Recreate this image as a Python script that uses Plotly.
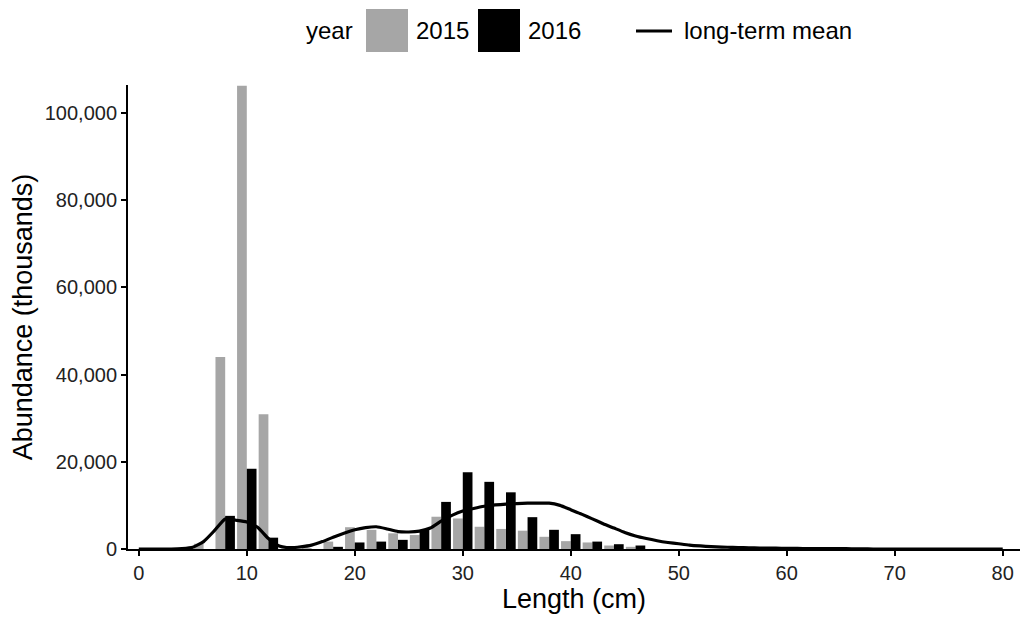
import plotly.graph_objects as go

# Length bins (cm) for bars
bin_lengths = [6, 8, 10, 12, 14, 16, 18, 20, 22, 24, 26, 28, 30, 32, 34, 36, 38, 40, 42, 44, 46]
abund_2015 = [1200, 44000, 106200, 30900, 0, 200, 1700, 5000, 4400, 3600, 3200, 7400, 7000, 5100,
              4600, 4200, 2800, 1800, 1500, 800, 500]
abund_2016 = [0, 7600, 18400, 2600, 0, 0, 500, 1500, 1700, 2100, 4400, 10800, 17600, 15400,
              13000, 7300, 4400, 3400, 1700, 1100, 800]

# Long-term mean (1 cm steps)
mean_lengths = list(range(0, 81))
mean_abund = [0, 0, 0, 0, 100, 400, 1700, 4200, 6900, 6600, 6200, 5000, 2400, 700, 300, 500,
              900, 1700, 2700, 3600, 4400, 4900, 5100, 4600, 4000, 3900, 4100, 4800, 6400, 7700,
              8700, 9300, 9800, 10100, 10300, 10400, 10500, 10500, 10500, 10000, 9000, 8000,
              6900, 5800, 4800, 3800, 3000, 2400, 1900, 1500, 1200, 900, 700, 550, 450, 350,
              300, 250, 200, 180, 150, 130, 110, 90, 80, 70, 60, 50, 0, 0, 0, 0, 0, 0, 0, 0,
              0, 0, 0, 0, 0]

x_ticks = [0, 10, 20, 30, 40, 50, 60, 70, 80]
y_ticks = [0, 20000, 40000, 60000, 80000, 100000]

FONT = "Liberation Sans, Arial, sans-serif"
GRAY = "#a6a6a6"

fig = go.Figure()
fig.add_trace(go.Bar(x=bin_lengths, y=abund_2015, name="2015", marker_color=GRAY,
                     marker_line_width=0, showlegend=False))
fig.add_trace(go.Bar(x=bin_lengths, y=abund_2016, name="2016", marker_color="black",
                     marker_line_width=0, showlegend=False))
fig.add_trace(go.Scatter(x=mean_lengths, y=mean_abund, mode="lines", name="long-term mean",
                         line=dict(color="black", width=3.2, shape="spline", smoothing=0.5),
                         showlegend=False))


def px(x):
    return (x - 128) / 892


def py(y):
    return (549 - y) / 464


# Custom legend (swatches + text) at top
shapes = [
    dict(type="rect", xref="paper", yref="paper", x0=px(366), x1=px(408),
         y0=py(52), y1=py(9), fillcolor=GRAY, line_width=0),
    dict(type="rect", xref="paper", yref="paper", x0=px(478), x1=px(520),
         y0=py(52), y1=py(9), fillcolor="black", line_width=0),
    dict(type="line", xref="paper", yref="paper", x0=px(636), x1=px(672),
         y0=py(31), y1=py(31), line=dict(color="black", width=3)),
]
annots = []
for txt, xp in [("year", 304), ("2015", 414), ("2016", 526), ("long-term mean", 682)]:
    annots.append(dict(text=txt, xref="paper", yref="paper", x=px(xp),
                       y=py(31), xanchor="left", yanchor="middle", showarrow=False,
                       font=dict(size=24, color="black", family=FONT)))

fig.update_layout(
    width=1024, height=618,
    margin=dict(l=128, r=4, t=85, b=69),
    plot_bgcolor="white", paper_bgcolor="white",
    barmode="group", bargap=0.1, bargroupgap=0,
    font=dict(family=FONT, color="black"),
    shapes=shapes, annotations=annots,
    xaxis=dict(range=[-1.0, 81.6], tickvals=x_ticks, ticks="outside", ticklen=5, tickwidth=1.5,
               tickcolor="black", showline=True, linecolor="black", linewidth=2,
               showgrid=False, zeroline=False, tickfont=dict(size=20, color="#222"),
               title=dict(text="Length (cm)", font=dict(size=27, color="black"), standoff=4)),
    yaxis=dict(range=[0, 106400], tickvals=y_ticks, tickformat=",d", ticks="outside", ticklen=5,
               tickwidth=1.5, tickcolor="black", showline=True, linecolor="black", linewidth=2,
               showgrid=False, zeroline=False, tickfont=dict(size=20, color="#222"),
               title=dict(text="Abundance (thousands)", font=dict(size=27, color="black"),
                          standoff=4)),
)

fig.write_html("out.html")
